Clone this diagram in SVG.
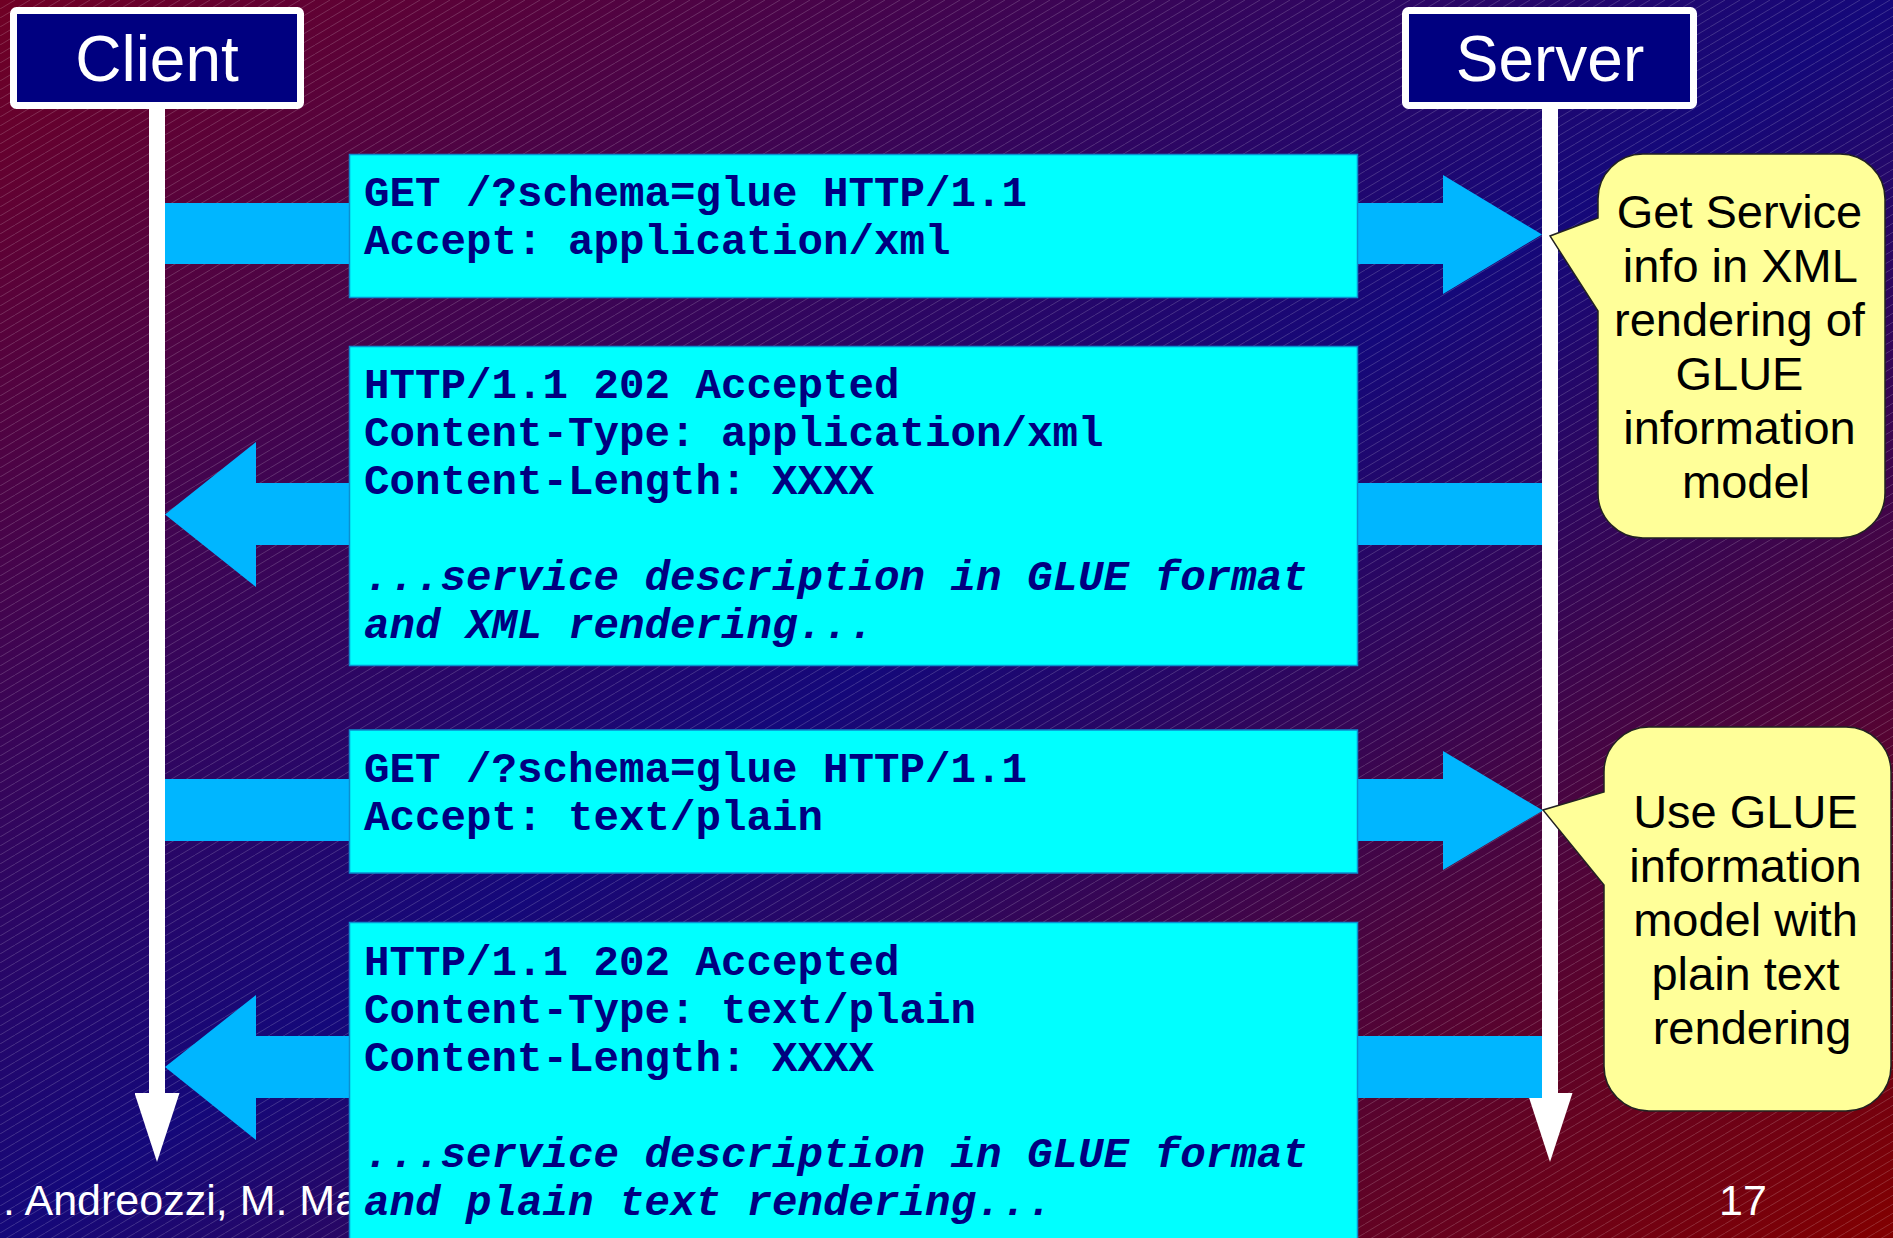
<svg xmlns="http://www.w3.org/2000/svg" width="1893" height="1238" viewBox="0 0 1893 1238">
  <defs>
    <linearGradient id="bg" x1="0" y1="0" x2="1" y2="1">
      <stop offset="0" stop-color="#700024"/>
      <stop offset="0.5" stop-color="#14087a"/>
      <stop offset="1" stop-color="#820000"/>
    </linearGradient>
    <pattern id="hatch" patternUnits="userSpaceOnUse" width="15" height="9">
      <line x1="0" y1="9" x2="15" y2="0" stroke="#ffffff" stroke-opacity="0.17" stroke-width="1"/>
    </pattern>
    <marker id="lifehead" markerUnits="userSpaceOnUse" viewBox="0 0 69 45" refX="0" refY="22.5" markerWidth="69" markerHeight="45" orient="auto">
      <path d="M0,0 L69,22.5 L0,45 Z" fill="#ffffff"/>
    </marker>
    <style>
      .hdr { fill: #000080; stroke: #ffffff; stroke-width: 7; }
      .hdrtxt { font-family: "Liberation Sans", Arial, sans-serif; font-size: 64px; fill: #ffffff; text-anchor: middle; }
      .life { stroke: #ffffff; stroke-width: 16; fill: none; }
      .msg { fill: #00b6ff; }
      .box { fill: #00ffff; stroke: #0a8fd0; stroke-width: 1.5; }
      .code { font-family: "Liberation Mono", "Courier New", monospace; font-size: 42.5px; font-weight: bold; fill: #000080; }
      .code .it { font-style: italic; }
      .bubble { fill: #ffff99; stroke: #222222; stroke-width: 1.5; }
      .btxt { font-family: "Liberation Sans", Arial, sans-serif; font-size: 47px; fill: #000000; text-anchor: middle; }
      .foot { font-family: "Liberation Sans", Arial, sans-serif; font-size: 43px; fill: #ffffff; }
    </style>
  </defs>

  <rect x="0" y="0" width="1893" height="1238" fill="url(#bg)"/>
  <rect x="0" y="0" width="1893" height="1238" fill="url(#hatch)"/>

  <text class="foot" x="3" y="1215">. Andreozzi, M. Ma</text>
  <text class="foot" x="1743" y="1215" text-anchor="middle">17</text>

  <g id="connectors">
    <line id="client-lifeline" class="life" x1="157" y1="109" x2="157" y2="1093" marker-end="url(#lifehead)"/>
    <line id="server-lifeline" class="life" x1="1550" y1="109" x2="1550" y2="1093" marker-end="url(#lifehead)"/>
    <polygon id="req1" class="msg" points="165,203 1443,203 1443,175 1542,234.5 1443,294 1443,264 165,264"/>
    <polygon id="resp1" class="msg" points="1542,483 256,483 256,442 165,514.5 256,587 256,545 1542,545"/>
    <polygon id="req2" class="msg" points="165,779 1443,779 1443,751 1543,810.5 1443,870 1443,841 165,841"/>
    <polygon id="resp2" class="msg" points="1542,1036 256,1036 256,995 165,1067 256,1140 256,1098 1542,1098"/>
  </g>

  <g id="client">
    <rect class="hdr" x="13.5" y="10.5" width="287" height="95" rx="3"/>
    <text class="hdrtxt" x="157" y="81">Client</text>
  </g>

  <g id="server">
    <rect class="hdr" x="1405.5" y="10.5" width="288" height="95" rx="3"/>
    <text class="hdrtxt" x="1550" y="81">Server</text>
  </g>

  <g id="request1">
    <rect class="box" x="349.5" y="154.5" width="1008" height="143"/>
    <text class="code">
      <tspan x="364" y="206">GET /?schema=glue HTTP/1.1</tspan>
      <tspan x="364" y="254">Accept: application/xml</tspan>
    </text>
  </g>

  <g id="response1">
    <rect class="box" x="349.5" y="346.5" width="1008" height="319"/>
    <text class="code">
      <tspan x="364" y="398">HTTP/1.1 202 Accepted</tspan>
      <tspan x="364" y="446">Content-Type: application/xml</tspan>
      <tspan x="364" y="494">Content-Length: XXXX</tspan>
      <tspan class="it" x="364" y="590">...service description in GLUE format</tspan>
      <tspan class="it" x="364" y="638">and XML rendering...</tspan>
    </text>
  </g>

  <g id="request2">
    <rect class="box" x="349.5" y="730" width="1008" height="143"/>
    <text class="code">
      <tspan x="364" y="782">GET /?schema=glue HTTP/1.1</tspan>
      <tspan x="364" y="830">Accept: text/plain</tspan>
    </text>
  </g>

  <g id="response2">
    <rect class="box" x="349.5" y="922.5" width="1008" height="330"/>
    <text class="code">
      <tspan x="364" y="975">HTTP/1.1 202 Accepted</tspan>
      <tspan x="364" y="1023">Content-Type: text/plain</tspan>
      <tspan x="364" y="1071">Content-Length: XXXX</tspan>
      <tspan class="it" x="364" y="1167">...service description in GLUE format</tspan>
      <tspan class="it" x="364" y="1215">and plain text rendering...</tspan>
    </text>
  </g>

  <g id="note1">
    <path class="bubble" d="M1643,154 H1840 A45,45 0 0 1 1885,199 V493 A45,45 0 0 1 1840,538 H1643 A45,45 0 0 1 1598,493 V311 L1550,236 L1598,218 V199 A45,45 0 0 1 1643,154 Z"/>
    <text class="btxt">
      <tspan x="1746" y="228">Get Service</tspan>
      <tspan x="1746" y="282">info in XML</tspan>
      <tspan x="1746" y="336">rendering of</tspan>
      <tspan x="1746" y="390">GLUE</tspan>
      <tspan x="1746" y="444">information</tspan>
      <tspan x="1746" y="498">model</tspan>
    </text>
  </g>

  <g id="note2">
    <path class="bubble" d="M1649,727 H1846 A45,45 0 0 1 1891,772 V1066 A45,45 0 0 1 1846,1111 H1649 A45,45 0 0 1 1604,1066 V885 L1543,810 L1604,792 V772 A45,45 0 0 1 1649,727 Z"/>
    <text class="btxt">
      <tspan x="1752" y="828">Use GLUE</tspan>
      <tspan x="1752" y="882">information</tspan>
      <tspan x="1752" y="936">model with</tspan>
      <tspan x="1752" y="990">plain text</tspan>
      <tspan x="1752" y="1044">rendering</tspan>
    </text>
  </g>
</svg>
